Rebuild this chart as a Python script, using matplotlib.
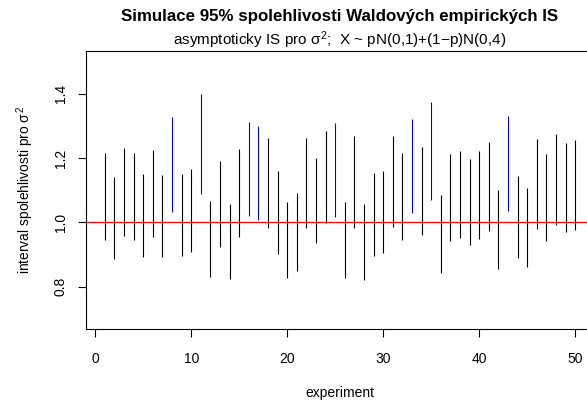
import matplotlib
matplotlib.use("Agg")
import matplotlib.pyplot as plt

plt.rcParams['font.family'] = ['Liberation Sans', 'DejaVu Sans']
plt.rcParams['mathtext.fontset'] = 'custom'
plt.rcParams['mathtext.rm'] = 'Liberation Sans'
plt.rcParams['mathtext.it'] = 'Liberation Sans'

# meze intervalu pro kazdy experiment
experiment = list(range(1, 51))
dolni = [0.944, 0.886, 0.959, 0.944, 0.894, 0.953, 0.893, 1.031, 0.896, 0.908,
         1.088, 0.829, 0.925, 0.823, 0.955, 1.021, 1.008, 0.983, 0.902, 0.827,
         0.848, 0.981, 0.935, 0.998, 1.016, 0.826, 0.984, 0.822, 0.897, 0.904,
         0.986, 0.944, 1.028, 0.961, 1.070, 0.844, 0.941, 0.950, 0.931, 0.948,
         0.972, 0.855, 1.034, 0.889, 0.860, 0.980, 0.941, 0.991, 0.969, 0.976]
horni = [1.214, 1.140, 1.232, 1.214, 1.150, 1.226, 1.148, 1.327, 1.151, 1.167,
         1.400, 1.067, 1.190, 1.057, 1.228, 1.313, 1.298, 1.263, 1.159, 1.064,
         1.090, 1.261, 1.201, 1.285, 1.307, 1.062, 1.267, 1.057, 1.154, 1.161,
         1.269, 1.214, 1.322, 1.235, 1.375, 1.085, 1.211, 1.222, 1.197, 1.220,
         1.250, 1.100, 1.331, 1.144, 1.106, 1.260, 1.211, 1.273, 1.246, 1.255]
sigma2 = 1.0

fig = plt.figure(figsize=(5.87, 4.05), dpi=100)
ax = fig.add_axes([86 / 587, 75.7 / 405, 508 / 587, 278.3 / 405])

barvy = ['blue' if (d > sigma2 or h < sigma2) else 'black' for d, h in zip(dolni, horni)]
ax.vlines(experiment, dolni, horni, colors=barvy, linewidth=0.8)
ax.axhline(sigma2, color='red', linewidth=0.9)

ax.set_xlim(-0.96, 51.96)
ax.set_ylim(0.668, 1.532)
ax.set_xticks([0, 10, 20, 30, 40, 50])
ax.set_yticks([0.8, 1.0, 1.2, 1.4])
ax.set_yticklabels(['0.8', '1.0', '1.2', '1.4'], rotation=90, va='center')
ax.tick_params(direction='out', length=6, width=0.8, labelsize=10, pad=10)
ax.tick_params(axis='y', pad=7)
for s in ax.spines.values():
    s.set_linewidth(0.8)

ax.set_xlabel('experiment', fontsize=10, labelpad=15)
ax.set_ylabel(r'interval spolehlivosti pro $\sigma^2$', fontsize=10, labelpad=13)

fig.text(340 / 587, 1 - 17 / 405, 'Simulace 95% spolehlivosti Waldových empirických IS',
         ha='center', va='center', fontsize=12.2, fontweight='bold')
fig.text(340 / 587, 1 - 40 / 405, r'asymptoticky IS pro $\sigma^2$;  X ~ pN(0,1)+(1−p)N(0,4)',
         ha='center', va='center', fontsize=11)

fig.savefig('out.png', dpi=100)
